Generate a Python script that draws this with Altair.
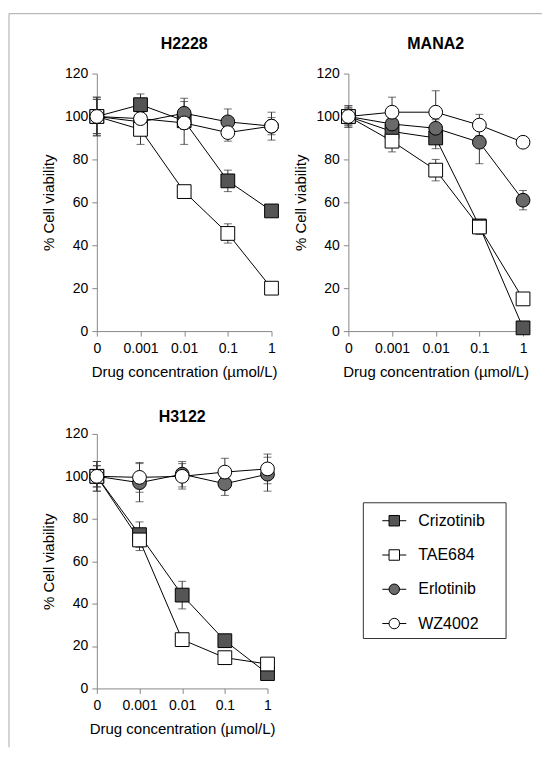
import altair as alt
import pandas as pd

# ---------------- data ----------------
conc = ["0", "0.001", "0.01", "0.1", "1"]
drugs = ["Crizotinib", "TAE684", "Erlotinib", "WZ4002"]
draw_order = ["Crizotinib", "Erlotinib", "TAE684", "WZ4002"]
panels = ["H2228", "MANA2", "H3122"]

# H2228
h2228_crizotinib = [100, 105.5, 98, 70, 56]
h2228_crizotinib_sd = [9, 5, 4, 5, 2]
h2228_tae684 = [100, 94, 65, 45.5, 20]
h2228_tae684_sd = [9, 7, 2, 4.5, 2]
h2228_erlotinib = [100, 97.5, 101.5, 97.5, 95.5]
h2228_erlotinib_sd = [8, 3, 7, 6, 4]
h2228_wz4002 = [100, 99, 97, 92.5, 95.5]
h2228_wz4002_sd = [8, 3, 10, 4, 6.5]

# MANA2
mana2_crizotinib = [100, 93, 90, 49, 1.5]
mana2_crizotinib_sd = [5, 4, 5, 3, 1]
mana2_tae684 = [100, 88.5, 75, 48.5, 15]
mana2_tae684_sd = [5, 5, 5, 3.5, 2]
mana2_erlotinib = [100, 96.5, 94.5, 88, 61]
mana2_erlotinib_sd = [4, 3, 4, 10, 4.5]
mana2_wz4002 = [100, 102, 102, 96, 88]
mana2_wz4002_sd = [4, 7, 10, 5, 2]

# H3122
h3122_crizotinib = [100, 72.5, 44, 22.5, 7]
h3122_crizotinib_sd = [7, 6, 6.5, 3, 2]
h3122_tae684 = [100, 70, 23, 14.5, 11.5]
h3122_tae684_sd = [7, 5, 2, 2, 2]
h3122_erlotinib = [100, 97, 101, 96.5, 101]
h3122_erlotinib_sd = [5, 9, 6, 5.5, 8]
h3122_wz4002 = [100, 99.5, 100, 102, 103.5]
h3122_wz4002_sd = [5, 7, 6, 6.5, 7]

series = {
    "H2228": {
        "Crizotinib": (h2228_crizotinib, h2228_crizotinib_sd),
        "TAE684": (h2228_tae684, h2228_tae684_sd),
        "Erlotinib": (h2228_erlotinib, h2228_erlotinib_sd),
        "WZ4002": (h2228_wz4002, h2228_wz4002_sd),
    },
    "MANA2": {
        "Crizotinib": (mana2_crizotinib, mana2_crizotinib_sd),
        "TAE684": (mana2_tae684, mana2_tae684_sd),
        "Erlotinib": (mana2_erlotinib, mana2_erlotinib_sd),
        "WZ4002": (mana2_wz4002, mana2_wz4002_sd),
    },
    "H3122": {
        "Crizotinib": (h3122_crizotinib, h3122_crizotinib_sd),
        "TAE684": (h3122_tae684, h3122_tae684_sd),
        "Erlotinib": (h3122_erlotinib, h3122_erlotinib_sd),
        "WZ4002": (h3122_wz4002, h3122_wz4002_sd),
    },
}

rows = []
for panel_name, ds in series.items():
    for z, d in enumerate(draw_order):
        vals, sds = ds[d]
        for i, c in enumerate(conc):
            rows.append({"panel": panel_name, "drug": d, "conc": c, "ci": i, "z": z,
                         "v": vals[i], "lo": vals[i] - sds[i], "hi": vals[i] + sds[i]})
df = pd.DataFrame(rows)

FONT = "Liberation Sans"
shape_scale = alt.Scale(domain=drugs, range=["square", "square", "circle", "circle"])
fill_scale = alt.Scale(domain=drugs, range=["#555555", "#ffffff", "#6a6a6a", "#ffffff"])
one = pd.DataFrame({"k": [0]})


def panel(name, width, height, title_gap, frame=False):
    base = alt.Chart(df).transform_filter(alt.datum.panel == name)
    xenc = alt.X("conc:N", sort=conc, scale=alt.Scale(type="point", padding=0),
                 axis=alt.Axis(title="Drug concentration (µmol/L)", labelAngle=0,
                               labelPadding=5, titlePadding=9))
    yenc = alt.Y("v:Q", scale=alt.Scale(domain=[0, 120], nice=False),
                 axis=alt.Axis(title="% Cell viability", values=[0, 20, 40, 60, 80, 100, 120],
                               labelPadding=4, titlePadding=8))
    err = base.mark_rule(color="#333333", strokeWidth=1).encode(
        x=xenc, y=alt.Y("lo:Q"), y2="hi:Q")
    cap_lo = base.mark_tick(color="#333333", thickness=1, size=8).encode(x=xenc, y=alt.Y("lo:Q"))
    cap_hi = base.mark_tick(color="#333333", thickness=1, size=8).encode(x=xenc, y=alt.Y("hi:Q"))
    line = base.mark_line(color="black", strokeWidth=1).encode(
        x=xenc, y=yenc, detail="drug:N", order="ci:Q")
    pts = base.mark_point(filled=True, stroke="black", strokeWidth=1, size=190,
                          opacity=1, fillOpacity=1).encode(
        x=xenc, y=yenc,
        shape=alt.Shape("drug:N", scale=shape_scale, legend=None),
        fill=alt.Fill("drug:N", scale=fill_scale, legend=None),
        order="z:Q")
    title = alt.Chart(one).mark_text(font=FONT, fontSize=16, fontWeight="bold", color="black",
                                     align="center", baseline="bottom").encode(
        x=alt.value(width / 2), y=alt.value(-title_gap), text=alt.value(name))
    layers = [err, cap_lo, cap_hi, line, pts, title]
    if frame:
        ftop = alt.Chart(one).mark_rule(color="#aaaaaa", strokeWidth=1).encode(
            x=alt.value(-88), x2=alt.value(446), y=alt.value(-60))
        fleft = alt.Chart(one).mark_rule(color="#aaaaaa", strokeWidth=1).encode(
            x=alt.value(-88), y=alt.value(-60), y2=alt.value(675))
        layers += [ftop, fleft]
    return alt.layer(*layers).properties(width=width, height=height)


p1 = panel("H2228", 175, 258, 22, frame=True)
p2 = panel("MANA2", 175, 258, 22)
p3 = panel("H3122", 171, 255, 9)

# legend
leg_df = pd.DataFrame({"drug": drugs})
ly = alt.Y("drug:N", sort=drugs, scale=alt.Scale(type="point", range=[87, 190], padding=0), axis=None)
leg_box = alt.Chart(one).mark_rect(fillOpacity=0, stroke="#333333", strokeWidth=1).encode(
    x=alt.value(15), x2=alt.value(158), y=alt.value(69), y2=alt.value(205))
leg_line = alt.Chart(leg_df).mark_rule(color="black", strokeWidth=1).encode(
    x=alt.value(34), x2=alt.value(58), y=ly)
leg_pts = alt.Chart(leg_df).mark_point(filled=True, stroke="black", strokeWidth=1, size=110,
                                       opacity=1, fillOpacity=1).encode(
    x=alt.value(46), y=ly,
    shape=alt.Shape("drug:N", scale=shape_scale, legend=None),
    fill=alt.Fill("drug:N", scale=fill_scale, legend=None))
leg_txt = alt.Chart(leg_df).mark_text(align="left", baseline="middle", fontSize=16, font=FONT,
                                      color="black").encode(
    x=alt.value(70), y=ly, text="drug:N")
legend = alt.layer(leg_box, leg_line, leg_pts, leg_txt).properties(width=158, height=205)

chart = alt.concat(p1, p2, p3, legend, columns=2, spacing={"row": 103, "column": 77},
                   bounds="flush").properties(
    padding={"left": 0, "top": 4, "right": 0, "bottom": 0}
).configure(font=FONT).configure_view(strokeWidth=0).configure_axis(
    domainColor="#888888", tickColor="#888888", labelColor="black", titleColor="black",
    labelFont=FONT, titleFont=FONT, labelFontSize=14, titleFontSize=15,
    titleFontWeight="normal", grid=False, tickSize=5, domainWidth=1, tickWidth=1
)

chart.save("out.html", embed_options={"renderer": "svg", "actions": False})
